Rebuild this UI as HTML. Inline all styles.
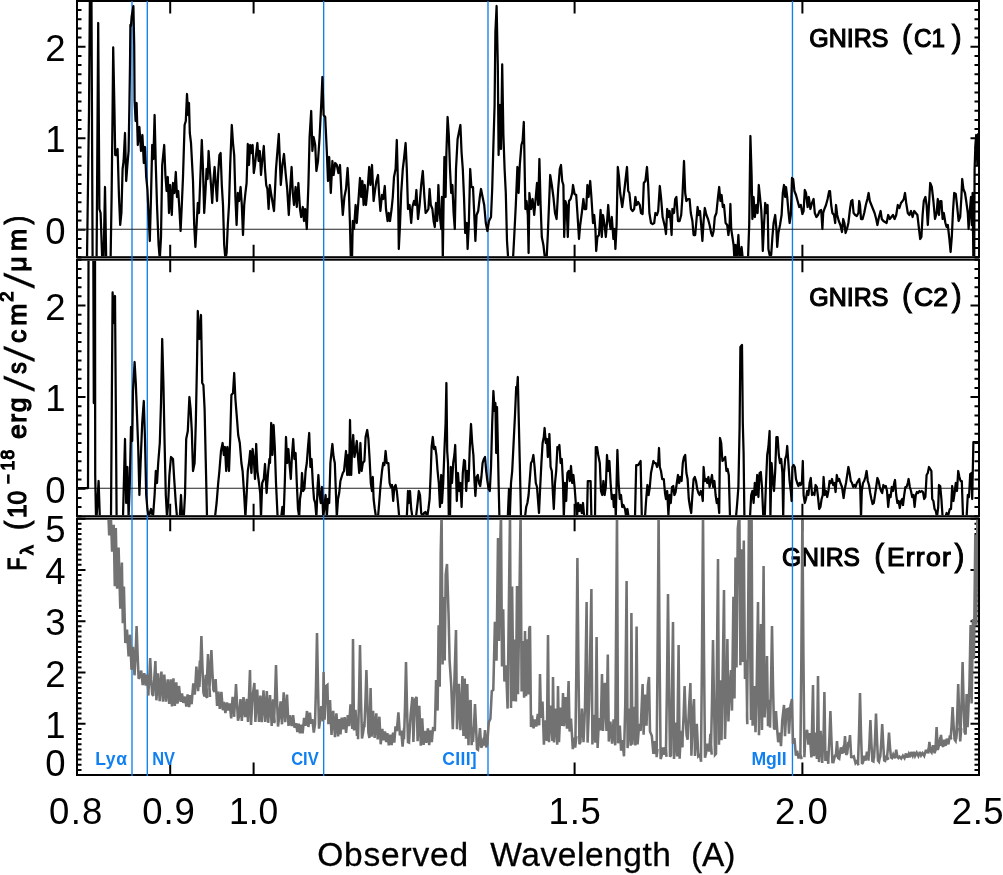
<!DOCTYPE html><html><head><meta charset="utf-8"><title>GNIRS spectra</title><style>html,body{margin:0;padding:0;background:#fff}svg{display:block}text{font-family:"Liberation Sans",sans-serif;fill:#000}</style></head><body>
<svg width="1003" height="875" viewBox="0 0 1003 875">
<rect width="1003" height="875" fill="#fff"/>
<defs>
<clipPath id="c0"><rect x="78" y="2" width="900" height="254.2"/></clipPath>
<clipPath id="c1"><rect x="78" y="260.7" width="900" height="254.5"/></clipPath>
<clipPath id="c2"><rect x="78" y="519.7" width="900" height="254.3"/></clipPath>
</defs>
<rect x="77" y="1" width="902" height="256.2" fill="none" stroke="#000" stroke-width="2"/>
<rect x="77" y="259.7" width="902" height="256.5" fill="none" stroke="#000" stroke-width="2"/>
<rect x="77" y="518.7" width="902" height="256.3" fill="none" stroke="#000" stroke-width="2"/>
<path d="M170.2 1.0v12.5M170.2 257.2v-12.5M253.6 1.0v12.5M253.6 257.2v-12.5M574.6 1.0v12.5M574.6 257.2v-12.5M802.4 1.0v12.5M802.4 257.2v-12.5M77 257.2h4.5 M979 257.2h-4.5M77 248.0h4.5 M979 248.0h-4.5M77 238.9h4.5 M979 238.9h-4.5M77 229.8h8.5 M979 229.8h-8.5M77 220.6h4.5 M979 220.6h-4.5M77 211.4h4.5 M979 211.4h-4.5M77 202.3h4.5 M979 202.3h-4.5M77 193.1h4.5 M979 193.1h-4.5M77 184.0h4.5 M979 184.0h-4.5M77 174.8h4.5 M979 174.8h-4.5M77 165.7h4.5 M979 165.7h-4.5M77 156.5h4.5 M979 156.5h-4.5M77 147.4h4.5 M979 147.4h-4.5M77 138.2h8.5 M979 138.2h-8.5M77 129.1h4.5 M979 129.1h-4.5M77 119.9h4.5 M979 119.9h-4.5M77 110.8h4.5 M979 110.8h-4.5M77 101.6h4.5 M979 101.6h-4.5M77 92.5h4.5 M979 92.5h-4.5M77 83.3h4.5 M979 83.3h-4.5M77 74.2h4.5 M979 74.2h-4.5M77 65.0h4.5 M979 65.0h-4.5M77 55.9h4.5 M979 55.9h-4.5M77 46.7h8.5 M979 46.7h-8.5M77 37.6h4.5 M979 37.6h-4.5M77 28.4h4.5 M979 28.4h-4.5M77 19.3h4.5 M979 19.3h-4.5M77 10.1h4.5 M979 10.1h-4.5M77 1.0h4.5 M979 1.0h-4.5M170.2 259.7v12.5M170.2 516.2v-12.5M253.6 259.7v12.5M253.6 516.2v-12.5M574.6 259.7v12.5M574.6 516.2v-12.5M802.4 259.7v12.5M802.4 516.2v-12.5M77 516.2h4.5 M979 516.2h-4.5M77 507.0h4.5 M979 507.0h-4.5M77 497.9h4.5 M979 497.9h-4.5M77 488.7h8.5 M979 488.7h-8.5M77 479.6h4.5 M979 479.6h-4.5M77 470.4h4.5 M979 470.4h-4.5M77 461.2h4.5 M979 461.2h-4.5M77 452.1h4.5 M979 452.1h-4.5M77 442.9h4.5 M979 442.9h-4.5M77 433.8h4.5 M979 433.8h-4.5M77 424.6h4.5 M979 424.6h-4.5M77 415.4h4.5 M979 415.4h-4.5M77 406.3h4.5 M979 406.3h-4.5M77 397.1h8.5 M979 397.1h-8.5M77 387.9h4.5 M979 387.9h-4.5M77 378.8h4.5 M979 378.8h-4.5M77 369.6h4.5 M979 369.6h-4.5M77 360.5h4.5 M979 360.5h-4.5M77 351.3h4.5 M979 351.3h-4.5M77 342.1h4.5 M979 342.1h-4.5M77 333.0h4.5 M979 333.0h-4.5M77 323.8h4.5 M979 323.8h-4.5M77 314.7h4.5 M979 314.7h-4.5M77 305.5h8.5 M979 305.5h-8.5M77 296.3h4.5 M979 296.3h-4.5M77 287.2h4.5 M979 287.2h-4.5M77 278.0h4.5 M979 278.0h-4.5M77 268.9h4.5 M979 268.9h-4.5M77 259.7h4.5 M979 259.7h-4.5M170.2 518.7v12.5M170.2 775.0v-12.5M253.6 518.7v12.5M253.6 775.0v-12.5M574.6 518.7v12.5M574.6 775.0v-12.5M802.4 518.7v12.5M802.4 775.0v-12.5M77 775.0h8.5 M979 775.0h-8.5M77 769.9h4.5 M979 769.9h-4.5M77 764.7h4.5 M979 764.7h-4.5M77 759.6h4.5 M979 759.6h-4.5M77 754.5h4.5 M979 754.5h-4.5M77 749.4h4.5 M979 749.4h-4.5M77 744.2h4.5 M979 744.2h-4.5M77 739.1h4.5 M979 739.1h-4.5M77 734.0h4.5 M979 734.0h-4.5M77 728.9h4.5 M979 728.9h-4.5M77 723.7h8.5 M979 723.7h-8.5M77 718.6h4.5 M979 718.6h-4.5M77 713.5h4.5 M979 713.5h-4.5M77 708.4h4.5 M979 708.4h-4.5M77 703.2h4.5 M979 703.2h-4.5M77 698.1h4.5 M979 698.1h-4.5M77 693.0h4.5 M979 693.0h-4.5M77 687.9h4.5 M979 687.9h-4.5M77 682.7h4.5 M979 682.7h-4.5M77 677.6h4.5 M979 677.6h-4.5M77 672.5h8.5 M979 672.5h-8.5M77 667.4h4.5 M979 667.4h-4.5M77 662.2h4.5 M979 662.2h-4.5M77 657.1h4.5 M979 657.1h-4.5M77 652.0h4.5 M979 652.0h-4.5M77 646.9h4.5 M979 646.9h-4.5M77 641.7h4.5 M979 641.7h-4.5M77 636.6h4.5 M979 636.6h-4.5M77 631.5h4.5 M979 631.5h-4.5M77 626.3h4.5 M979 626.3h-4.5M77 621.2h8.5 M979 621.2h-8.5M77 616.1h4.5 M979 616.1h-4.5M77 611.0h4.5 M979 611.0h-4.5M77 605.8h4.5 M979 605.8h-4.5M77 600.7h4.5 M979 600.7h-4.5M77 595.6h4.5 M979 595.6h-4.5M77 590.5h4.5 M979 590.5h-4.5M77 585.3h4.5 M979 585.3h-4.5M77 580.2h4.5 M979 580.2h-4.5M77 575.1h4.5 M979 575.1h-4.5M77 570.0h8.5 M979 570.0h-8.5M77 564.8h4.5 M979 564.8h-4.5M77 559.7h4.5 M979 559.7h-4.5M77 554.6h4.5 M979 554.6h-4.5M77 549.5h4.5 M979 549.5h-4.5M77 544.3h4.5 M979 544.3h-4.5M77 539.2h4.5 M979 539.2h-4.5M77 534.1h4.5 M979 534.1h-4.5M77 529.0h4.5 M979 529.0h-4.5M77 523.8h4.5 M979 523.8h-4.5M77 518.7h8.5 M979 518.7h-8.5" stroke="#000" stroke-width="2" fill="none"/>
<text x="782.10" y="565.50" font-size="26.5" textLength="77.70" lengthAdjust="spacingAndGlyphs" stroke="#000" stroke-width="1.2" style="font-family:'Liberation Sans',sans-serif;fill:#000">GNIRS</text>
<line x1="132" x2="132" y1="1" y2="776" stroke="#1080f0" stroke-width="1.35"/>
<line x1="147.3" x2="147.3" y1="1" y2="776" stroke="#1080f0" stroke-width="1.35"/>
<line x1="323.68" x2="323.68" y1="1" y2="776" stroke="#1080f0" stroke-width="1.35"/>
<line x1="488" x2="488" y1="1" y2="776" stroke="#1080f0" stroke-width="1.35"/>
<line x1="792.45" x2="792.45" y1="1" y2="776" stroke="#1080f0" stroke-width="1.35"/>
<line x1="77" x2="979" y1="229.2" y2="229.2" stroke="#222" stroke-width="1.1"/>
<line x1="77" x2="979" y1="488.2" y2="488.2" stroke="#222" stroke-width="1.1"/>
<g clip-path="url(#c0)"><polyline fill="none" stroke="#000" stroke-width="2.25" stroke-linejoin="round" points="87.0,259.0 89.0,111.0 90.0,-15.0 91.4,-15.0 92.6,259.0 96.6,259.0 98.2,23.0 99.4,209.0 100.6,213.0 102.2,259.0 103.6,259.0 105.0,187.0 106.2,259.0 110.6,259.0 111.6,197.0 112.6,109.0 113.2,47.4 114.4,107.0 115.2,155.0 116.0,155.0 117.6,149.0 119.0,197.0 120.2,225.0 121.4,213.0 122.6,169.0 123.6,161.0 125.0,133.0 126.2,181.0 127.4,165.0 128.6,151.0 129.4,105.0 130.0,65.0 130.4,25.0 131.0,25.8 131.6,17.0 133.4,6.2 134.2,45.0 134.6,101.0 135.6,121.0 136.6,103.0 137.8,145.0 139.4,127.0 141.0,151.0 142.4,135.0 143.8,163.0 145.0,147.0 146.2,177.0 147.4,189.0 148.6,215.0 149.8,241.0 151.0,197.0 152.2,145.0 153.4,159.0 154.6,115.0 155.8,165.0 157.0,205.0 158.6,245.0 159.8,259.0 161.0,237.0 162.2,165.0 164.2,145.0 165.4,175.0 166.6,191.0 167.8,177.0 169.0,213.0 170.2,185.0 171.8,215.0 173.0,183.0 174.4,193.0 175.8,172.0 177.0,197.0 178.2,191.0 179.4,209.0 180.6,231.0 181.8,205.0 183.0,177.0 184.6,125.0 185.8,121.0 187.0,94.0 188.2,115.0 189.0,103.0 189.8,133.0 191.0,143.0 193.0,181.0 194.2,225.0 195.4,247.0 196.6,225.0 197.8,203.0 199.0,213.0 200.6,171.0 201.8,140.0 203.0,169.0 204.2,213.0 205.4,193.0 206.6,169.0 207.6,179.0 208.6,151.0 209.8,169.0 211.0,185.0 212.2,203.0 213.4,181.0 214.6,167.0 215.8,185.0 217.0,201.0 218.2,173.0 219.4,155.0 220.6,153.0 221.8,185.0 223.0,205.0 224.2,245.0 225.4,259.0 226.6,253.0 227.8,225.0 229.0,205.0 230.2,165.0 231.8,125.0 233.0,143.0 234.2,155.0 235.4,197.0 236.6,225.0 237.8,193.0 239.0,201.0 240.6,187.0 241.8,205.0 243.0,235.0 244.2,205.0 245.4,193.0 246.6,183.0 247.8,144.0 249.0,165.0 250.2,145.0 251.4,153.0 252.6,145.0 253.8,173.0 255.0,165.0 256.2,153.0 257.4,143.0 258.6,161.0 259.8,151.0 261.0,175.0 262.2,161.0 263.8,146.0 265.0,169.0 266.2,185.0 267.4,189.0 268.6,209.0 269.8,185.0 271.0,193.0 273.0,205.0 274.0,211.0 276.0,169.0 278.8,134.0 280.8,185.0 282.4,165.0 284.0,154.0 285.6,173.0 287.2,189.0 288.8,215.0 290.4,185.0 291.6,167.0 292.8,193.0 294.0,205.0 295.6,187.0 296.8,207.0 298.4,183.0 300.0,209.0 301.2,217.0 302.8,207.0 304.0,221.0 305.2,209.0 306.8,229.0 308.4,185.0 309.6,137.0 311.2,111.0 312.4,151.0 313.6,137.0 315.2,145.0 316.4,171.0 318.0,161.0 319.6,137.0 321.2,105.0 322.4,77.0 323.6,115.0 325.2,117.0 326.8,151.0 328.0,181.0 329.2,157.0 330.8,193.0 332.4,161.0 333.6,175.0 335.2,163.0 336.8,165.0 338.4,173.0 340.0,165.0 341.6,197.0 342.8,215.0 344.4,197.0 346.0,189.0 347.6,168.0 348.8,189.0 350.0,225.0 350.8,259.0 352.0,259.0 352.8,221.0 354.0,229.0 355.6,205.0 356.8,223.0 358.4,201.0 360.0,178.0 361.2,197.0 362.4,181.0 363.6,205.0 364.8,185.0 366.0,205.0 367.6,189.0 369.2,167.0 370.4,185.0 372.0,165.0 373.6,201.0 375.2,189.0 376.4,181.0 378.0,175.0 379.2,195.0 380.4,211.0 382.0,195.0 383.2,199.0 384.8,186.0 386.0,209.0 387.6,221.0 388.8,213.0 390.0,221.0 391.6,209.0 392.8,197.0 394.0,177.0 395.6,169.0 396.8,140.0 398.0,185.0 398.8,249.0 400.0,225.0 401.2,193.0 402.8,169.0 404.0,159.0 405.6,143.0 406.8,169.0 408.0,209.0 409.6,205.0 411.2,223.0 412.4,207.0 414.0,201.0 415.2,205.0 416.4,190.0 418.0,219.0 419.6,205.0 421.2,185.0 422.8,171.0 424.4,197.0 425.6,213.0 427.2,211.0 428.4,209.0 429.6,189.0 430.8,205.0 432.4,209.0 433.6,221.0 434.8,227.0 436.0,203.0 437.2,221.0 438.4,185.0 439.6,213.0 441.2,229.0 442.0,197.0 442.8,259.0 443.6,201.0 444.4,157.0 445.6,197.0 446.4,153.0 447.6,117.0 448.8,135.0 450.0,169.0 451.2,193.0 452.4,185.0 453.6,213.0 454.8,229.0 456.0,169.0 457.6,139.0 458.8,133.0 460.4,125.0 461.6,153.0 462.8,169.0 464.0,197.0 465.2,233.0 466.8,223.0 467.6,249.0 468.8,225.0 470.2,169.0 471.4,187.0 473.0,187.0 474.2,213.0 475.4,241.0 476.6,215.0 478.2,211.0 479.8,197.0 481.0,189.0 482.6,197.0 484.2,205.0 485.8,223.0 487.4,231.0 489.0,221.0 491.0,217.0 492.2,189.0 493.4,145.0 494.6,105.0 495.4,32.0 496.6,6.0 497.8,65.0 498.6,155.0 499.4,125.0 500.2,105.0 501.0,149.0 502.2,64.4 503.4,135.0 504.6,169.0 505.8,193.0 507.0,241.0 508.2,259.0 513.0,259.0 514.2,237.0 515.8,205.0 517.4,167.0 518.6,193.0 519.8,165.0 521.4,145.0 522.6,141.0 523.8,122.0 524.6,165.0 525.4,209.0 526.6,201.0 527.8,215.0 528.6,253.0 529.4,193.0 531.0,209.0 532.6,199.0 534.2,215.0 535.8,197.0 537.0,183.0 538.2,205.0 539.4,159.0 540.6,205.0 541.8,237.0 543.4,245.0 545.0,259.0 546.6,259.0 547.8,235.0 549.0,205.0 550.2,175.0 551.8,185.0 553.4,197.0 555.0,213.0 556.6,219.0 558.2,189.0 559.8,169.0 561.0,165.0 562.2,181.0 563.4,185.0 564.2,237.0 565.4,201.0 566.6,205.0 567.8,237.0 569.0,201.0 570.6,199.0 572.2,193.0 573.0,185.0 574.6,194.0 576.2,195.0 577.4,213.0 579.0,239.0 580.2,225.0 581.8,213.0 583.4,199.0 584.6,209.0 586.2,209.0 587.4,185.0 588.6,197.0 590.2,181.0 591.4,197.0 593.0,223.0 594.2,215.0 595.4,229.0 596.2,251.0 597.4,237.0 599.0,235.0 600.6,210.0 601.8,237.0 603.0,215.0 604.6,225.0 605.8,237.0 607.0,223.0 608.2,205.0 609.4,221.0 610.6,229.0 611.8,217.0 613.4,239.0 614.6,229.0 615.4,249.0 616.6,225.0 617.8,167.0 619.0,177.0 620.2,193.0 622.2,207.0 623.8,195.0 625.4,181.0 627.0,167.0 628.2,191.0 629.4,193.0 631.0,209.0 632.6,211.0 634.2,209.0 635.4,197.0 636.6,205.0 638.2,202.0 639.8,205.0 641.0,213.0 642.6,214.0 643.8,183.0 645.4,181.0 647.0,167.0 648.2,185.0 649.4,213.0 651.0,223.0 652.6,224.0 654.2,223.0 655.4,213.0 657.0,215.0 658.2,211.0 659.8,186.0 661.0,197.0 662.6,217.0 665.0,227.0 666.0,234.0 667.2,209.0 668.4,217.0 669.6,211.0 670.8,223.0 671.6,235.0 672.4,209.0 674.0,213.0 675.2,199.0 676.4,197.0 678.0,221.0 679.6,221.0 681.2,215.0 682.4,197.0 684.0,161.0 685.2,193.0 686.4,201.0 688.0,199.0 689.6,199.0 690.8,213.0 692.4,221.0 693.6,235.0 695.2,235.0 696.4,221.0 697.6,207.0 698.8,215.0 700.0,211.0 701.2,225.0 702.4,241.0 703.6,221.0 704.8,208.0 706.4,215.0 708.0,219.0 709.6,225.0 711.2,233.0 712.4,236.0 713.6,231.0 714.8,217.0 716.4,213.0 718.0,197.0 719.2,187.0 720.4,201.0 721.6,195.0 722.8,207.0 724.0,205.0 725.6,223.0 727.2,225.0 728.4,235.0 729.6,225.0 730.4,204.0 731.2,229.0 732.4,237.0 733.6,245.0 734.4,259.0 735.6,245.0 736.8,259.0 738.4,235.0 739.6,259.0 741.6,247.0 742.8,259.0 748.0,259.0 749.2,225.0 750.4,136.0 751.6,175.0 752.4,219.0 753.6,197.0 754.8,217.0 756.4,205.0 757.6,213.0 758.8,185.0 760.0,197.0 761.2,209.0 762.0,225.0 762.8,251.0 764.0,225.0 765.2,203.0 766.4,213.0 767.6,205.0 768.4,249.0 769.6,255.0 771.2,255.0 772.4,237.0 773.6,223.0 775.2,215.0 776.4,229.0 777.2,247.0 778.4,233.0 780.0,225.0 781.6,215.0 782.8,193.0 784.0,185.0 785.2,197.0 786.0,187.0 787.2,197.0 788.4,211.0 789.6,223.0 790.8,215.0 792.0,178.0 793.2,179.0 794.4,191.0 796.0,195.0 797.6,201.0 799.2,207.0 800.8,205.0 802.4,214.0 803.6,211.0 804.8,190.0 806.0,193.0 807.6,207.0 808.8,197.0 810.4,209.0 812.0,203.0 813.6,199.0 814.8,213.0 816.4,217.0 818.0,215.0 819.6,211.0 821.2,210.0 822.4,229.0 823.2,213.0 824.4,209.0 826.0,205.0 827.6,199.0 829.2,191.0 830.0,191.0 831.2,205.0 832.4,213.0 834.0,215.0 835.2,223.0 836.0,205.0 837.2,215.0 838.8,221.0 840.4,225.0 842.0,232.0 843.2,219.0 844.4,223.0 845.6,233.0 847.2,228.0 848.4,223.0 850.0,209.0 851.2,201.0 852.4,200.0 853.6,213.0 855.2,215.0 856.8,216.0 858.4,213.0 859.2,201.0 860.0,205.0 861.0,219.0 862.6,219.0 864.2,213.0 865.8,205.0 867.4,199.0 868.6,193.0 869.8,201.0 871.4,205.0 873.0,209.0 874.6,213.0 876.2,219.0 877.4,225.0 879.0,217.0 880.6,211.0 881.8,219.0 883.4,221.0 885.0,222.0 886.6,223.0 888.2,215.0 889.8,219.0 891.4,217.0 893.0,215.0 894.6,219.0 896.2,215.0 897.8,205.0 899.4,208.0 901.0,203.0 902.6,201.0 903.8,199.0 905.0,193.0 906.2,203.0 907.8,213.0 909.4,215.0 911.0,211.0 912.6,217.0 914.2,211.0 915.8,213.0 917.4,215.0 919.0,229.0 920.2,239.0 921.4,237.0 922.6,215.0 923.8,201.0 925.4,197.0 926.6,205.0 927.8,225.0 929.0,205.0 930.2,183.0 931.8,187.0 933.4,201.0 935.0,219.0 936.6,213.0 937.8,199.0 939.0,215.0 940.2,201.0 941.4,201.0 942.6,219.0 943.8,213.0 945.4,223.0 946.6,227.0 947.8,225.0 949.4,239.0 950.6,252.0 951.8,237.0 953.0,211.0 954.2,193.0 955.8,194.0 957.0,205.0 958.6,221.0 960.2,217.0 961.4,197.0 962.2,179.0 963.4,189.0 965.0,193.0 966.2,201.0 967.8,213.0 968.6,229.0 969.8,211.0 971.0,197.0 971.8,225.0 972.6,193.0 973.4,263.0 974.2,263.0 974.6,169.0 975.4,145.0 976.2,135.0 977.4,165.0 978.2,134.0 979.0,134.0"/></g>
<g clip-path="url(#c1)"><polyline fill="none" stroke="#000" stroke-width="2.25" stroke-linejoin="round" points="77.0,488.0 88.0,488.0 88.6,223.0 93.2,223.0 93.8,403.0 94.4,223.0 95.0,223.0 95.2,475.0 96.0,517.0 96.6,517.0 98.6,481.0 99.8,517.0 111.0,517.0 111.8,403.0 112.6,292.4 113.8,323.0 115.0,296.0 115.8,403.0 116.6,517.0 123.0,517.0 125.0,439.0 126.2,503.0 127.4,467.0 128.6,517.0 129.8,483.0 131.0,427.0 132.2,441.0 133.0,391.0 134.6,362.0 135.8,383.0 137.0,415.0 138.2,447.0 139.4,495.0 140.6,463.0 142.2,423.0 143.8,401.0 145.0,439.0 146.2,495.0 147.4,509.0 148.6,517.0 151.0,509.0 153.0,517.0 154.6,495.0 155.8,471.0 157.0,483.0 158.2,463.0 159.8,443.0 161.0,403.0 162.2,339.0 163.4,383.0 164.6,443.0 165.8,495.0 167.0,517.0 168.2,503.0 169.4,475.0 171.0,457.0 173.0,459.0 174.2,479.0 175.8,503.0 177.0,517.0 179.8,517.0 181.0,495.0 182.2,517.0 183.8,517.0 185.0,495.0 186.2,439.0 187.8,431.0 189.4,397.0 190.6,409.0 191.8,431.0 193.0,471.0 194.6,463.0 195.8,423.0 197.0,363.0 197.8,311.0 199.4,339.0 201.0,315.0 202.2,383.0 203.4,385.0 204.6,409.0 205.8,463.0 207.0,517.0 215.0,517.0 216.6,503.0 218.2,483.0 219.4,471.0 221.0,451.0 222.6,443.0 223.8,455.0 225.0,447.0 226.2,471.0 227.4,447.0 229.0,471.0 230.2,439.0 231.4,395.0 233.0,393.0 234.2,373.0 235.4,399.0 237.0,419.0 238.2,435.0 239.8,443.0 241.4,463.0 242.6,471.0 244.2,495.0 245.4,517.0 246.6,495.0 247.8,471.0 249.0,463.0 250.2,451.0 251.4,473.0 252.6,449.0 253.8,459.0 255.0,479.0 256.2,444.0 257.4,471.0 259.0,483.0 260.2,493.0 261.0,517.0 262.2,483.0 263.8,479.0 265.0,464.0 266.6,493.0 268.2,471.0 269.4,459.0 270.0,463.0 271.2,423.0 272.4,455.0 273.6,425.0 274.8,447.0 276.0,483.0 277.6,517.0 281.2,517.0 282.4,507.0 283.6,517.0 284.8,483.0 286.0,437.0 287.2,463.0 288.4,449.0 289.6,465.0 290.8,479.0 292.0,455.0 293.2,439.0 294.4,459.0 295.6,453.0 296.8,483.0 298.0,509.0 299.2,517.0 300.0,499.0 301.2,491.0 302.0,473.0 303.2,491.0 304.4,489.0 305.6,471.0 306.8,463.0 308.0,447.0 309.2,433.0 310.4,467.0 311.6,459.0 312.8,483.0 314.0,499.0 315.2,503.0 316.4,517.0 317.6,487.0 318.4,475.0 319.6,495.0 320.8,503.0 322.0,487.0 323.2,517.0 324.4,507.0 325.6,495.0 326.8,517.0 328.0,499.0 329.2,503.0 330.4,463.0 331.6,451.0 332.4,444.0 333.6,457.0 334.8,463.0 336.0,495.0 336.8,517.0 338.0,499.0 339.2,493.0 340.4,481.0 341.6,477.0 342.8,473.0 344.0,471.0 345.2,459.0 346.0,451.0 347.2,475.0 348.4,455.0 349.2,475.0 350.0,420.0 351.2,475.0 352.0,451.0 353.2,435.0 354.4,457.0 355.6,451.0 356.8,441.0 358.0,457.0 359.2,473.0 360.4,443.0 361.6,471.0 362.8,463.0 364.4,461.0 365.6,437.0 367.2,430.0 368.4,439.0 369.6,459.0 370.8,483.0 372.0,491.0 372.8,477.0 373.6,499.0 374.8,509.0 376.0,517.0 378.0,517.0 379.2,503.0 380.4,487.0 382.0,471.0 383.2,463.0 384.4,465.0 385.6,451.0 386.8,463.0 388.4,463.0 389.6,483.0 390.8,487.0 392.0,485.0 393.2,501.0 394.4,487.0 395.6,485.0 396.8,491.0 398.0,503.0 399.2,517.0 406.8,517.0 408.0,491.0 408.8,503.0 410.0,491.0 411.2,509.0 412.4,517.0 416.0,517.0 417.6,503.0 418.8,491.0 420.0,495.0 421.2,513.0 422.8,517.0 424.0,513.0 425.6,512.0 427.2,517.0 428.4,509.0 429.6,499.0 430.8,471.0 431.6,447.0 432.8,437.0 434.0,449.0 435.2,447.0 436.4,455.0 437.6,471.0 438.8,483.0 440.0,507.0 441.2,475.0 442.0,503.0 443.2,483.0 444.4,451.0 445.6,423.0 446.4,383.0 447.2,451.0 448.0,463.0 448.8,517.0 450.0,517.0 450.8,467.0 452.0,483.0 453.2,463.0 454.4,455.0 455.2,445.0 456.0,471.0 456.8,501.0 458.0,473.0 459.2,491.0 460.4,483.0 461.6,507.0 462.8,473.0 464.0,460.0 465.0,461.0 466.2,491.0 467.4,471.0 468.6,481.0 469.8,447.0 471.0,424.0 472.2,443.0 473.4,455.0 474.6,483.0 475.4,496.0 476.6,477.0 477.8,475.0 479.0,483.0 480.2,486.0 481.4,477.0 482.6,463.0 483.8,459.0 485.0,457.0 486.2,471.0 487.4,481.0 488.6,489.0 489.8,491.0 491.0,467.0 492.2,423.0 493.4,391.0 494.6,411.0 495.4,403.0 496.2,453.0 497.0,407.0 497.8,443.0 498.6,483.0 499.4,517.0 507.8,517.0 509.0,489.0 509.8,517.0 511.0,483.0 512.2,471.0 513.4,447.0 515.0,415.0 516.2,387.0 517.0,389.0 517.8,377.0 518.6,413.0 519.8,463.0 521.0,517.0 525.0,517.0 526.2,507.0 527.4,503.0 528.6,495.0 529.8,479.0 531.0,463.0 532.2,461.0 533.4,455.0 534.6,467.0 535.8,483.0 537.0,487.0 538.2,503.0 539.0,513.0 540.2,487.0 541.4,463.0 542.6,443.0 543.8,437.0 544.6,428.0 545.8,443.0 547.0,439.0 547.8,457.0 548.6,451.0 549.4,434.0 550.6,467.0 551.8,471.0 553.0,495.0 553.8,509.0 555.0,483.0 556.2,471.0 557.4,447.0 558.6,449.0 559.4,445.0 560.6,463.0 561.8,459.0 563.0,483.0 563.8,517.0 565.0,483.0 566.2,501.0 567.4,473.0 568.6,471.0 569.8,481.0 571.0,466.0 572.2,483.0 573.4,475.0 574.6,487.0 575.8,503.0 577.0,517.0 578.2,503.0 579.4,511.0 580.6,505.0 581.8,513.0 583.0,503.0 584.2,517.0 587.0,517.0 587.8,481.0 590.6,481.0 591.4,517.0 595.0,517.0 595.8,447.0 597.0,447.0 598.2,455.0 599.8,463.0 601.0,491.0 602.2,495.0 603.4,481.0 604.6,495.0 605.8,487.0 607.0,455.0 608.2,471.0 609.4,461.0 610.6,483.0 611.8,499.0 613.0,495.0 613.8,507.0 615.0,495.0 615.8,517.0 616.6,483.0 617.4,450.0 618.6,483.0 619.8,499.0 621.0,495.0 622.2,507.0 623.4,505.0 625.0,509.0 626.2,517.0 627.4,509.0 628.6,517.0 635.0,517.0 636.2,465.0 638.2,465.0 640.6,461.0 641.8,517.0 645.0,517.0 646.2,499.0 647.4,485.0 648.6,495.0 649.8,487.0 651.0,473.0 652.2,467.0 653.4,461.0 654.6,463.0 655.8,463.0 657.0,467.0 658.2,463.0 659.0,448.0 659.8,467.0 661.0,471.0 662.2,479.0 663.8,479.0 665.0,493.0 666.0,499.0 667.2,491.0 668.4,515.0 669.6,495.0 670.8,503.0 672.0,487.0 673.2,486.0 674.4,495.0 675.6,492.0 676.8,483.0 678.0,475.0 679.2,483.0 680.4,477.0 681.6,481.0 682.8,463.0 684.0,457.0 685.2,455.0 686.4,473.0 687.6,479.0 688.8,499.0 690.0,507.0 691.2,513.0 692.4,495.0 693.6,479.0 694.8,477.0 696.0,481.0 697.2,489.0 698.4,493.0 699.6,495.0 700.8,491.0 702.0,495.0 702.8,501.0 703.6,467.0 704.8,481.0 706.0,479.0 707.2,483.0 708.4,477.0 709.6,487.0 710.8,481.0 712.0,475.0 713.2,487.0 714.4,481.0 715.6,495.0 716.8,503.0 718.0,499.0 719.2,513.0 720.0,438.0 721.2,443.0 722.4,461.0 724.0,459.0 725.2,457.0 726.4,471.0 727.6,469.0 728.8,475.0 730.0,517.0 736.0,517.0 737.2,503.0 738.4,487.0 739.6,427.0 740.4,347.0 742.0,345.0 742.8,423.0 743.6,453.0 744.4,517.0 750.0,517.0 751.2,495.0 752.4,491.0 753.6,503.0 754.8,483.0 756.0,495.0 757.2,475.0 758.4,497.0 759.6,473.0 760.8,472.0 762.0,487.0 763.2,515.0 764.8,515.0 766.0,483.0 767.2,455.0 768.4,447.0 769.6,431.0 770.4,517.0 771.6,463.0 772.8,479.0 774.0,491.0 775.2,471.0 776.4,437.0 777.6,437.0 778.8,455.0 780.0,463.0 781.2,459.0 782.4,473.0 783.2,517.0 784.0,473.0 785.2,459.0 786.4,455.0 787.2,446.0 788.4,463.0 789.6,481.0 790.8,491.0 791.6,501.0 792.4,467.0 793.6,465.0 794.8,467.0 796.0,479.0 797.2,483.0 798.4,486.0 799.6,483.0 800.8,485.0 802.0,481.0 802.8,461.0 803.6,495.0 804.8,503.0 806.0,499.0 807.2,491.0 808.4,495.0 809.6,483.0 810.8,478.0 812.0,495.0 813.2,493.0 814.4,495.0 815.6,485.0 816.8,487.0 818.0,497.0 819.2,509.0 820.4,507.0 821.6,499.0 822.8,495.0 823.6,477.0 824.8,495.0 826.0,491.0 827.2,497.0 828.4,491.0 829.6,481.0 830.8,483.0 832.0,479.0 833.2,485.0 834.4,483.0 835.6,492.0 836.8,475.0 838.0,481.0 839.2,479.0 840.4,483.0 842.0,487.0 843.6,498.0 844.8,489.0 846.0,483.0 847.2,475.0 848.4,467.0 849.6,473.0 850.8,481.0 852.0,483.0 853.2,487.0 854.4,485.0 855.6,487.0 856.8,483.0 858.0,481.0 859.2,479.0 860.2,487.0 861.0,517.0 861.8,491.0 863.0,483.0 864.2,481.0 865.4,477.0 866.6,471.0 867.8,481.0 869.0,485.0 870.2,493.0 871.4,499.0 872.6,504.0 873.8,503.0 875.0,495.0 876.2,487.0 877.4,478.0 878.6,481.0 879.8,487.0 881.0,491.0 882.2,493.0 883.4,485.0 884.6,487.0 885.8,486.0 887.0,491.0 888.2,507.0 889.4,495.0 890.6,497.0 891.8,487.0 893.0,491.0 894.2,483.0 895.0,480.0 896.2,495.0 897.4,503.0 898.6,501.0 899.8,508.0 901.0,501.0 902.2,499.0 903.0,505.0 904.2,495.0 905.4,487.0 906.6,487.0 907.8,483.0 908.6,479.0 909.8,487.0 911.0,491.0 912.2,497.0 913.4,495.0 914.6,507.0 915.8,495.0 917.0,492.0 918.2,493.0 919.4,491.0 920.6,492.0 921.8,491.0 923.0,492.0 924.2,499.0 925.4,497.0 926.6,475.0 927.8,473.0 929.0,467.0 930.2,469.0 931.4,471.0 932.2,499.0 933.4,501.0 934.6,509.0 935.8,511.0 937.0,517.0 938.2,507.0 939.0,485.0 940.2,486.0 941.4,499.0 942.6,517.0 945.4,517.0 946.6,513.0 947.8,517.0 949.8,509.0 951.0,509.0 952.2,486.0 953.4,501.0 954.6,493.0 955.8,483.0 957.0,491.0 958.2,471.0 959.4,477.0 960.6,481.0 961.8,481.0 963.0,517.0 966.6,517.0 967.8,495.0 969.0,497.0 970.2,474.0 971.4,473.0 972.2,499.0 973.4,442.0 979.0,442.0"/></g>
<g clip-path="url(#c2)"><polyline fill="none" stroke="#727272" stroke-width="2.55" stroke-linejoin="miter" stroke-miterlimit="3" points="108.0,505.1 109.2,535.5 110.6,508.2 112.1,551.7 113.7,524.7 114.8,586.2 115.8,528.1 117.1,588.7 118.6,547.5 120.3,608.8 121.9,562.6 122.8,623.2 123.9,586.5 125.3,643.0 127.0,629.5 128.6,656.3 130.1,634.7 131.5,669.8 133.0,646.7 134.5,675.3 134.6,674.5 135.6,654.2 136.6,626.0 137.6,654.2 138.6,678.7 139.6,677.1 141.2,670.6 142.7,685.2 144.3,673.2 145.7,685.6 146.9,674.6 148.5,693.3 148.2,695.7 149.2,679.9 150.2,658.0 151.2,679.9 152.2,694.2 153.2,695.9 155.4,661.0 156.4,700.3 158.1,673.3 159.7,701.2 161.4,671.5 163.0,701.8 164.3,674.5 166.0,701.7 167.7,679.4 169.2,703.9 170.6,679.3 172.0,706.5 173.4,678.4 174.8,706.0 176.3,682.3 177.5,703.7 179.0,686.0 180.6,701.9 182.0,693.5 183.3,702.8 185.1,696.6 186.3,706.7 187.6,694.5 189.1,707.1 190.3,695.1 191.6,704.2 193.3,683.3 194.8,694.7 196.4,666.5 198.1,691.2 199.9,660.6 199.4,687.0 200.4,665.6 201.4,636.0 202.4,665.6 203.4,692.3 204.4,696.5 205.8,674.9 207.2,697.8 206.0,696.3 207.0,678.5 208.0,654.0 209.0,678.5 210.0,697.0 209.4,688.6 210.4,672.4 211.4,650.0 212.4,672.4 213.4,689.9 214.4,691.8 215.6,679.1 217.1,706.0 218.4,691.7 219.8,709.0 221.4,691.9 222.8,710.2 224.0,701.8 225.4,713.1 227.0,702.4 228.2,710.6 229.7,703.4 231.2,718.3 232.6,696.8 234.3,715.6 234.0,716.8 235.0,703.0 236.0,684.0 237.0,703.0 238.0,720.7 239.0,716.2 240.5,699.2 241.8,721.0 243.5,697.2 245.1,717.1 246.8,698.9 248.0,722.0 250.0,670.0 251.0,724.9 252.5,696.9 254.4,683.0 255.4,722.0 257.2,689.5 259.0,721.9 260.4,695.6 261.8,722.2 263.5,690.2 265.2,721.9 266.8,691.0 268.2,722.8 270.0,695.1 271.7,726.0 273.1,699.2 274.6,721.8 274.0,722.8 275.0,698.5 276.0,665.0 277.0,698.5 278.0,726.5 279.0,718.6 280.6,701.4 282.0,724.3 283.7,692.3 285.2,722.1 287.0,694.5 288.5,725.9 289.9,715.3 291.6,726.1 293.1,715.1 294.5,727.7 296.1,723.3 297.4,732.0 298.7,723.7 300.0,733.3 301.3,724.7 302.6,733.4 304.1,717.8 305.5,725.9 307.0,711.0 308.4,727.0 309.9,712.7 311.0,723.6 312.3,719.1 313.8,732.6 315.2,722.9 315.0,724.3 316.0,686.0 317.0,633.0 318.0,686.0 319.0,728.7 320.0,721.0 321.3,706.0 322.9,721.4 323.6,672.0 324.6,719.6 326.1,686.2 327.4,685.0 328.4,724.2 330.0,700.1 331.5,734.9 333.2,710.9 335.0,737.1 336.4,713.4 338.1,736.4 339.3,719.0 340.5,734.3 341.7,717.6 343.3,729.3 344.6,717.2 346.1,732.8 347.8,715.2 349.1,726.2 350.5,704.3 352.3,728.8 353.0,639.0 354.0,730.4 355.5,709.7 357.0,736.0 358.4,719.6 358.0,739.3 359.0,699.7 360.0,645.0 361.0,699.7 362.0,738.5 363.0,733.1 364.5,722.9 364.4,727.1 365.4,703.1 366.4,670.0 367.4,703.1 368.4,732.5 369.4,738.0 370.6,688.0 371.6,736.6 373.1,710.7 374.6,737.9 376.3,713.3 377.7,739.5 379.4,716.7 380.7,744.3 382.3,729.0 383.5,740.4 385.0,731.3 386.2,742.2 387.4,733.2 388.8,745.4 390.3,734.6 391.6,745.1 393.1,732.7 394.3,742.6 395.5,726.3 396.8,731.2 398.4,712.3 399.9,735.3 401.2,730.6 402.6,746.6 404.1,727.8 404.0,739.3 405.0,706.8 406.0,662.0 407.0,706.8 408.0,742.2 409.0,742.6 410.6,715.0 412.4,697.0 413.4,742.0 415.0,699.6 416.6,697.0 417.6,741.2 419.3,705.8 420.8,745.6 422.2,718.2 423.6,744.9 425.0,730.8 426.2,742.8 427.9,728.4 429.2,745.1 430.5,730.3 431.8,742.2 433.1,727.0 434.8,731.0 436.1,680.0 437.6,710.6 438.6,625.2 439.7,686.7 440.7,552.7 441.6,513.0 442.6,664.4 443.7,597.0 444.7,660.6 445.7,574.6 447.0,564.0 448.6,616.0 449.6,660.6 451.3,686.7 452.8,729.1 454.3,684.0 456.0,630.0 457.0,729.2 458.8,683.8 460.4,730.2 462.4,676.0 463.4,736.0 464.7,678.5 466.0,738.7 467.3,683.9 468.5,745.3 469.5,703.6 470.6,700.0 471.6,745.1 473.2,727.3 473.0,741.8 474.0,725.9 475.0,704.0 476.0,725.9 477.0,749.0 478.0,749.7 478.8,742.0 480.0,728.0 481.2,747.7 482.2,745.8 483.7,738.0 483.8,745.7 485.0,730.0 486.2,747.4 487.2,744.7 488.8,722.2 490.4,718.7 491.8,691.2 493.3,690.0 494.9,621.9 496.5,660.7 498.0,538.0 499.0,641.0 500.1,551.1 501.0,513.0 502.0,666.4 503.2,609.2 504.4,681.5 506.0,665.3 507.6,708.6 508.9,602.0 510.0,513.0 511.0,708.0 512.1,586.4 513.5,701.3 514.5,639.5 515.9,701.5 517.0,586.0 518.0,694.3 519.3,606.5 520.6,513.0 521.6,691.4 522.8,641.1 524.1,697.8 525.0,631.0 526.0,696.2 527.1,639.2 528.1,694.5 529.2,628.8 530.0,626.0 531.0,727.1 532.0,715.5 533.6,728.3 534.9,719.4 536.3,726.5 537.8,714.0 539.2,725.4 540.0,674.0 541.0,718.0 542.5,701.6 543.9,744.6 545.4,720.3 546.9,740.8 548.0,635.0 549.0,742.2 550.8,705.6 552.4,741.0 553.0,677.0 554.0,742.4 555.7,708.5 557.2,744.7 558.0,686.0 559.0,742.3 560.5,707.6 562.2,726.0 563.0,693.0 564.0,726.2 565.6,697.1 567.0,728.8 568.6,681.0 569.6,731.5 571.0,718.6 572.8,749.1 574.0,737.6 575.2,747.7 576.4,736.1 575.4,741.7 576.4,664.6 577.4,558.0 578.4,664.6 579.4,744.2 580.4,742.2 581.9,708.6 583.5,742.2 585.0,707.4 586.6,602.0 587.6,742.6 589.2,700.9 591.4,589.0 592.4,744.5 593.9,714.7 595.4,742.6 596.6,637.0 597.6,747.9 599.0,718.1 600.7,730.2 602.0,674.0 603.0,731.0 604.8,682.7 606.5,731.0 607.8,654.6 608.8,741.6 610.4,721.5 612.1,743.7 613.6,719.4 615.2,745.3 617.0,513.0 618.0,743.3 619.8,725.5 621.1,750.7 622.4,740.0 624.0,756.3 625.3,702.8 626.6,581.0 627.6,748.1 629.2,708.5 630.7,745.8 631.4,613.0 632.4,744.6 634.0,706.7 635.4,745.5 636.6,626.6 637.6,744.5 639.2,723.8 640.6,731.0 642.6,684.0 643.6,734.6 645.0,694.5 646.5,725.6 647.9,685.4 649.0,677.0 650.0,731.5 651.8,735.7 653.4,753.8 654.7,741.0 656.0,754.3 657.5,748.9 656.6,757.2 657.6,654.7 658.6,513.0 659.6,654.7 660.6,759.0 661.6,755.9 662.8,747.4 664.1,754.9 665.4,747.1 666.5,756.9 666.0,748.3 667.0,683.5 668.0,594.0 669.0,683.5 670.0,756.8 671.0,755.1 673.0,622.0 674.0,759.0 675.8,722.5 677.1,756.5 678.6,645.0 679.6,758.7 681.0,730.8 682.5,747.4 682.6,737.6 683.6,715.9 684.6,686.0 685.6,715.9 686.6,735.1 687.6,739.6 689.1,706.2 690.4,683.0 691.4,755.7 693.0,710.2 694.0,699.0 695.0,756.0 696.8,723.8 698.3,756.3 699.9,754.9 701.1,761.7 701.0,758.3 702.0,655.2 703.0,513.0 704.0,655.2 705.0,757.8 706.0,753.2 707.4,743.8 709.1,751.5 710.4,733.9 711.7,754.7 711.0,747.5 712.0,702.3 713.0,640.0 714.0,702.3 715.0,754.8 716.0,753.7 718.0,559.0 719.0,744.8 720.1,680.3 721.5,740.2 722.5,687.7 724.0,590.0 725.0,739.0 726.7,681.4 727.4,639.0 728.4,721.5 729.9,684.4 731.0,670.0 732.0,710.6 733.4,596.8 734.5,698.5 735.5,557.6 736.5,667.6 737.8,528.5 739.4,513.0 740.4,665.2 741.5,549.3 742.7,662.0 743.8,540.6 745.0,679.1 746.3,659.8 747.3,724.3 747.0,715.9 748.0,630.7 749.0,513.0 750.0,630.7 751.0,719.9 751.6,513.0 752.6,725.7 754.1,686.0 755.5,732.2 756.7,685.0 758.0,602.0 759.0,735.2 760.0,675.9 761.0,624.0 762.0,730.1 763.6,566.0 764.6,717.5 766.4,683.5 767.0,656.0 768.0,726.2 769.8,699.7 770.0,727.6 771.0,685.0 772.0,626.0 773.0,685.0 774.0,728.1 775.0,729.6 774.8,724.4 776.0,711.0 777.2,730.2 778.2,742.2 779.7,732.6 781.0,746.1 782.2,720.9 784.0,705.0 785.0,736.3 786.4,709.7 788.0,709.0 789.0,733.6 790.5,705.6 792.0,699.0 793.0,743.7 794.4,738.2 795.9,755.7 797.1,750.7 798.6,758.5 800.0,753.5 801.7,759.1 800.4,754.7 801.4,653.2 802.4,513.0 803.4,653.2 804.4,757.2 805.4,734.9 807.1,729.9 808.4,744.6 809.7,733.0 811.4,757.5 813.0,685.0 814.0,756.2 815.6,732.5 816.9,758.9 818.0,676.0 819.0,762.1 820.6,730.9 822.2,762.9 823.7,729.6 824.4,692.0 825.4,760.9 827.0,751.2 828.3,763.8 828.4,758.4 829.4,738.5 830.4,711.0 831.4,738.5 832.4,762.1 833.4,762.2 835.1,754.9 835.8,756.9 837.0,741.0 838.2,758.0 839.2,758.7 840.8,747.4 842.2,753.7 843.9,745.5 843.8,753.0 845.0,736.0 846.2,754.9 847.2,753.3 848.4,742.0 848.8,747.2 850.0,735.0 851.2,757.1 852.2,757.2 853.8,756.4 855.5,763.1 857.0,761.1 858.5,765.3 858.0,763.5 859.0,733.9 860.0,693.0 861.0,733.9 862.0,763.9 863.0,762.5 864.4,755.7 865.6,760.6 867.0,751.8 868.6,758.7 868.4,760.7 869.4,743.6 870.4,720.0 871.4,743.6 872.4,760.9 873.4,761.4 874.6,748.3 874.0,758.3 875.0,739.5 876.0,713.6 877.0,739.5 878.0,760.5 879.0,761.8 880.5,753.8 880.2,757.5 881.2,743.4 882.2,724.0 883.2,743.4 884.2,760.5 885.2,761.0 886.7,755.5 888.4,759.8 887.0,757.6 888.0,747.1 889.0,732.6 890.0,747.1 891.0,757.6 892.0,758.2 893.3,754.3 894.7,757.1 895.0,758.4 896.2,749.6 897.4,756.6 898.4,757.9 899.6,756.6 901.2,758.6 902.9,755.7 904.5,758.1 906.0,753.5 907.2,757.6 908.7,754.0 909.9,757.3 911.1,752.1 912.7,755.8 913.9,751.8 915.1,756.0 916.7,752.7 918.4,756.1 919.9,751.9 921.1,755.4 922.6,753.2 924.2,755.9 926.0,749.8 927.3,753.1 928.7,748.4 928.2,753.6 929.4,742.0 930.6,751.3 931.6,752.6 933.1,745.2 934.6,753.2 936.0,748.0 935.4,751.1 936.6,727.0 937.8,750.0 938.8,746.1 940.3,737.4 939.8,745.9 941.0,735.0 942.2,745.0 943.2,746.9 944.4,739.6 945.6,745.9 946.8,738.7 948.4,744.3 949.9,735.4 951.1,738.1 950.6,739.1 951.6,725.6 952.6,707.0 953.6,725.6 954.6,739.6 955.6,741.0 957.3,727.8 956.2,739.1 957.2,716.0 958.2,684.0 959.2,716.0 960.2,741.5 961.2,728.1 960.6,730.3 961.6,701.6 962.6,662.0 963.6,701.6 964.6,732.3 965.6,734.4 966.6,694.0 967.6,727.2 969.4,686.3 970.6,625.0 971.6,703.6 973.0,618.9 973.9,658.9 975.3,534.8 976.3,624.8 977.4,516.1 979.0,500.0"/></g>
<text x="65.5" y="243.8" font-size="36.5" text-anchor="end">0</text>
<text x="65.5" y="152.2" font-size="36.5" text-anchor="end">1</text>
<text x="65.5" y="60.8" font-size="36.5" text-anchor="end">2</text>
<text x="65.5" y="502.7" font-size="36.5" text-anchor="end">0</text>
<text x="65.5" y="411.1" font-size="36.5" text-anchor="end">1</text>
<text x="65.5" y="319.5" font-size="36.5" text-anchor="end">2</text>
<text x="65.5" y="775.6" font-size="36.5" text-anchor="end">0</text>
<text x="65.5" y="737.7" font-size="36.5" text-anchor="end">1</text>
<text x="65.5" y="686.5" font-size="36.5" text-anchor="end">2</text>
<text x="65.5" y="635.2" font-size="36.5" text-anchor="end">3</text>
<text x="65.5" y="584.0" font-size="36.5" text-anchor="end">4</text>
<text x="65.5" y="542.4" font-size="36.5" text-anchor="end">5</text>
<text x="49.11" y="824.30" font-size="36.5" textLength="53.30" lengthAdjust="spacing" style="font-family:'Liberation Sans',sans-serif;fill:#000">0.8</text>
<text x="142.35" y="824.30" font-size="36.5" textLength="52.58" lengthAdjust="spacing" style="font-family:'Liberation Sans',sans-serif;fill:#000">0.9</text>
<text x="229.08" y="824.30" font-size="36.5" textLength="49.24" lengthAdjust="spacingAndGlyphs" style="font-family:'Liberation Sans',sans-serif;fill:#000">1.0</text>
<text x="548.51" y="824.30" font-size="36.5" textLength="52.42" lengthAdjust="spacing" style="font-family:'Liberation Sans',sans-serif;fill:#000">1.5</text>
<text x="775.02" y="824.30" font-size="36.5" textLength="52.68" lengthAdjust="spacing" style="font-family:'Liberation Sans',sans-serif;fill:#000">2.0</text>
<text x="951.83" y="824.30" font-size="36.5" textLength="51.82" lengthAdjust="spacing" style="font-family:'Liberation Sans',sans-serif;fill:#000">2.5</text>
<text x="317.16" y="865.60" font-size="33.5" textLength="150.96" lengthAdjust="spacing" stroke="#000" stroke-width="0.3" style="font-family:'Liberation Sans',sans-serif;fill:#000">Observed</text>
<text x="490.24" y="865.60" font-size="33.5" textLength="180.74" lengthAdjust="spacing" stroke="#000" stroke-width="0.3" style="font-family:'Liberation Sans',sans-serif;fill:#000">Wavelength</text>
<text x="690.92" y="865.60" font-size="33.5" textLength="44.58" lengthAdjust="spacing" stroke="#000" stroke-width="0.3" style="font-family:'Liberation Sans',sans-serif;fill:#000">(A)</text>
<text x="809.20" y="46.90" font-size="26.5" textLength="79.22" lengthAdjust="spacingAndGlyphs" stroke="#000" stroke-width="1.2" style="font-family:'Liberation Sans',sans-serif;fill:#000">GNIRS</text>
<text x="902.02" y="46.90" font-size="32" textLength="9.94" lengthAdjust="spacingAndGlyphs" stroke="#000" stroke-width="1" style="font-family:'Liberation Sans',sans-serif;fill:#000">(</text>
<text x="913.96" y="46.90" font-size="26.5" textLength="30.94" lengthAdjust="spacingAndGlyphs" stroke="#000" stroke-width="1.2" style="font-family:'Liberation Sans',sans-serif;fill:#000">C1</text>
<text x="951.66" y="46.90" font-size="32" textLength="9.94" lengthAdjust="spacingAndGlyphs" stroke="#000" stroke-width="1" style="font-family:'Liberation Sans',sans-serif;fill:#000">)</text>
<text x="809.20" y="306.00" font-size="26.5" textLength="79.22" lengthAdjust="spacingAndGlyphs" stroke="#000" stroke-width="1.2" style="font-family:'Liberation Sans',sans-serif;fill:#000">GNIRS</text>
<text x="902.02" y="306.00" font-size="32" textLength="9.94" lengthAdjust="spacingAndGlyphs" stroke="#000" stroke-width="1" style="font-family:'Liberation Sans',sans-serif;fill:#000">(</text>
<text x="913.96" y="306.00" font-size="26.5" textLength="33.94" lengthAdjust="spacing" stroke="#000" stroke-width="1.2" style="font-family:'Liberation Sans',sans-serif;fill:#000">C2</text>
<text x="951.66" y="306.00" font-size="32" textLength="9.94" lengthAdjust="spacingAndGlyphs" stroke="#000" stroke-width="1" style="font-family:'Liberation Sans',sans-serif;fill:#000">)</text>
<text x="874.30" y="565.50" font-size="32" textLength="9.94" lengthAdjust="spacingAndGlyphs" stroke="#000" stroke-width="1" style="font-family:'Liberation Sans',sans-serif;fill:#000">(</text>
<text x="886.92" y="565.50" font-size="26.5" textLength="63.80" lengthAdjust="spacing" stroke="#000" stroke-width="1.2" style="font-family:'Liberation Sans',sans-serif;fill:#000">Error</text>
<text x="954.52" y="565.50" font-size="32" textLength="9.94" lengthAdjust="spacingAndGlyphs" stroke="#000" stroke-width="1" style="font-family:'Liberation Sans',sans-serif;fill:#000">)</text>
<text x="95.30" y="765.00" font-size="17.5" textLength="31.60" lengthAdjust="spacing" font-weight="bold" style="font-family:'Liberation Sans',sans-serif;fill:#1080f0">Ly&#945;</text>
<text x="152.20" y="765.00" font-size="17.5" textLength="22.80" lengthAdjust="spacingAndGlyphs" font-weight="bold" style="font-family:'Liberation Sans',sans-serif;fill:#1080f0">NV</text>
<text x="291.20" y="765.00" font-size="17.5" textLength="27.56" lengthAdjust="spacingAndGlyphs" font-weight="bold" style="font-family:'Liberation Sans',sans-serif;fill:#1080f0">CIV</text>
<text x="442.20" y="765.00" font-size="17.5" textLength="34.50" lengthAdjust="spacing" font-weight="bold" style="font-family:'Liberation Sans',sans-serif;fill:#1080f0">CIII]</text>
<text x="751.40" y="765.00" font-size="17.5" textLength="35.20" lengthAdjust="spacingAndGlyphs" font-weight="bold" style="font-family:'Liberation Sans',sans-serif;fill:#1080f0">MgII</text>
<text transform="translate(25.60,569.60) rotate(-90)" x="-0.96" y="0" font-size="26.5" textLength="12.80" lengthAdjust="spacingAndGlyphs" stroke="#000" stroke-width="1.3" style="font-family:'Liberation Sans',sans-serif;fill:#000">F</text>
<text transform="translate(33.40,569.60) rotate(-90)" x="14.88" y="0" font-size="17.5" textLength="9.44" lengthAdjust="spacingAndGlyphs" stroke="#000" stroke-width="1.3" style="font-family:'Liberation Sans',sans-serif;fill:#000">&#955;</text>
<text transform="translate(26.90,569.60) rotate(-90)" x="39.52" y="0" font-size="32" textLength="9.28" lengthAdjust="spacingAndGlyphs" stroke="#000" stroke-width="1" style="font-family:'Liberation Sans',sans-serif;fill:#000">(</text>
<text transform="translate(25.60,569.60) rotate(-90)" x="51.52" y="0" font-size="26.5" textLength="27.36" lengthAdjust="spacingAndGlyphs" stroke="#000" stroke-width="1.3" style="font-family:'Liberation Sans',sans-serif;fill:#000">10</text>
<text transform="translate(14.40,569.60) rotate(-90)" x="85.60" y="0" font-size="17.5" textLength="9.76" lengthAdjust="spacingAndGlyphs" stroke="#000" stroke-width="1.3" style="font-family:'Liberation Sans',sans-serif;fill:#000">&#8722;</text>
<text transform="translate(14.40,569.60) rotate(-90)" x="99.04" y="0" font-size="17.5" textLength="20.80" lengthAdjust="spacing" stroke="#000" stroke-width="1.3" style="font-family:'Liberation Sans',sans-serif;fill:#000">18</text>
<text transform="translate(25.60,569.60) rotate(-90)" x="130.56" y="0" font-size="26.5" textLength="41.60" lengthAdjust="spacing" stroke="#000" stroke-width="1.3" style="font-family:'Liberation Sans',sans-serif;fill:#000">erg</text>
<text transform="translate(34.20,569.60) rotate(-90) skewX(-8)" x="178.08" y="0" font-size="41.6" stroke="#000" stroke-width="0.3" style="font-family:'Liberation Sans',sans-serif;fill:#000">/</text>
<text transform="translate(25.60,569.60) rotate(-90)" x="195.84" y="0" font-size="26.5" textLength="11.52" lengthAdjust="spacingAndGlyphs" stroke="#000" stroke-width="1.3" style="font-family:'Liberation Sans',sans-serif;fill:#000">s</text>
<text transform="translate(34.20,569.60) rotate(-90) skewX(-8)" x="207.84" y="0" font-size="41.6" stroke="#000" stroke-width="0.3" style="font-family:'Liberation Sans',sans-serif;fill:#000">/</text>
<text transform="translate(25.60,569.60) rotate(-90)" x="226.56" y="0" font-size="26.5" textLength="39.36" lengthAdjust="spacing" stroke="#000" stroke-width="1.3" style="font-family:'Liberation Sans',sans-serif;fill:#000">cm</text>
<text transform="translate(12.80,569.60) rotate(-90)" x="267.84" y="0" font-size="17.5" textLength="10.24" lengthAdjust="spacingAndGlyphs" stroke="#000" stroke-width="1.3" style="font-family:'Liberation Sans',sans-serif;fill:#000">2</text>
<text transform="translate(34.20,569.60) rotate(-90) skewX(-8)" x="281.12" y="0" font-size="41.6" stroke="#000" stroke-width="0.3" style="font-family:'Liberation Sans',sans-serif;fill:#000">/</text>
<text transform="translate(25.60,569.60) rotate(-90)" x="297.76" y="0" font-size="26.5" textLength="42.88" lengthAdjust="spacing" stroke="#000" stroke-width="1.3" style="font-family:'Liberation Sans',sans-serif;fill:#000">&#956;m</text>
<text transform="translate(26.90,569.60) rotate(-90)" x="345.12" y="0" font-size="32" textLength="8.80" lengthAdjust="spacingAndGlyphs" stroke="#000" stroke-width="1" style="font-family:'Liberation Sans',sans-serif;fill:#000">)</text>
</svg></body></html>
